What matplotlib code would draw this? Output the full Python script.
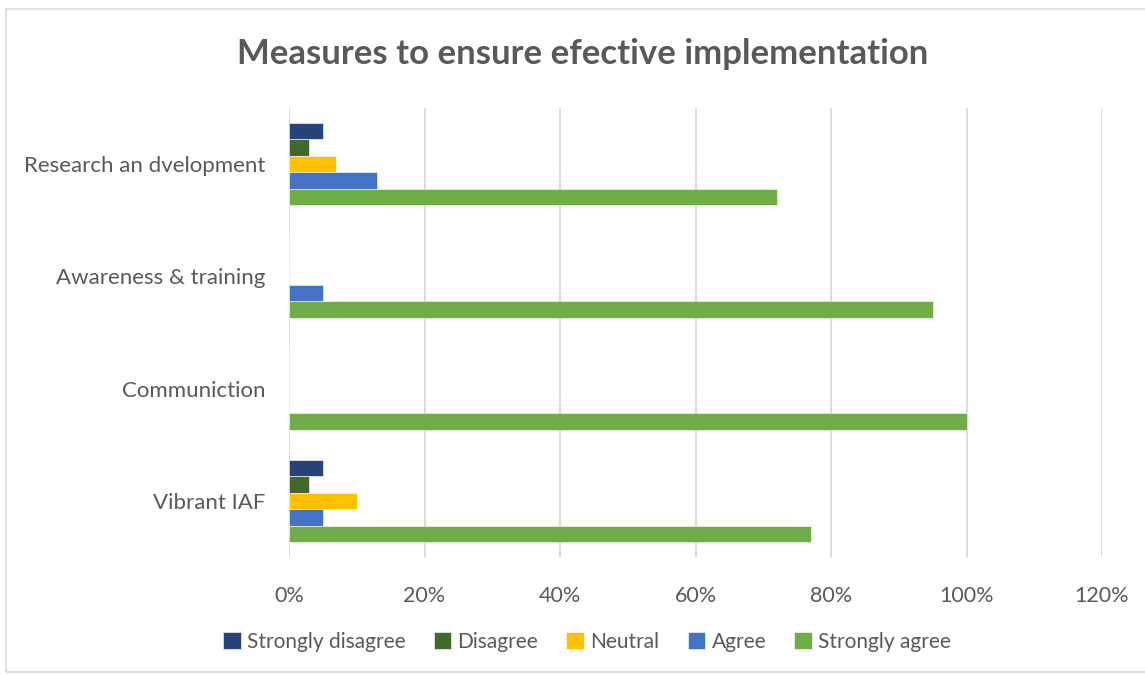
import matplotlib
matplotlib.use("Agg")
import matplotlib.pyplot as plt
import numpy as np
from matplotlib.patches import Rectangle

categories = ["Research an dvelopment", "Awareness & training", "Communiction", "Vibrant IAF"]
series_names = ["Strongly disagree", "Disagree", "Neutral", "Agree", "Strongly agree"]
strongly_disagree = [5, 0, 0, 5]
disagree = [3, 0, 0, 3]
neutral = [7, 0, 0, 10]
agree = [13, 5, 0, 5]
strongly_agree = [72, 95, 100, 77]
colors = ["#264478", "#43682B", "#FFC000", "#4472C4", "#70AD47"]
xticks = [0, 20, 40, 60, 80, 100, 120]
title = "Measures to ensure efective implementation"

series = [strongly_disagree, disagree, neutral, agree, strongly_agree]

plt.rcParams['font.family'] = ['Lato', 'DejaVu Sans']
txt = "#595959"

fig = plt.figure(figsize=(11.45, 6.75), dpi=100)
fig.patches.append(Rectangle((6/1145, 0.005), 1.5, 1 - 9/675 - 0.005, transform=fig.transFigure,
                             fill=False, edgecolor="#D9D9D9", linewidth=1.2))
ax = fig.add_axes([289/1145, 1 - 557/675, (1102 - 289)/1145, (557 - 108)/675])

n = len(categories)
bh = 0.147
centers = np.arange(n)  # 0 at top via inverted axis
for i, (vals, name, c) in enumerate(zip(series, series_names, colors)):
    offs = (i - 2) * bh
    ax.barh(centers + offs, vals, height=bh, color=c, label=name,
            edgecolor="white", linewidth=0.4, zorder=3)

ax.set_ylim(n - 0.5, -0.5)
ax.set_xlim(0, 120)
ax.set_xticks(xticks)
ax.set_xticklabels([f"{t}%" for t in xticks], fontsize=15.5, color=txt)
ax.set_yticks(centers)
ax.set_yticklabels(categories, fontsize=16, color=txt)
ax.tick_params(axis="both", length=0)
ax.tick_params(axis="x", pad=21)
ax.tick_params(axis="y", pad=17)
ax.grid(axis="x", color="#D9D9D9", linewidth=1.3, zorder=0)
for s in ax.spines.values():
    s.set_visible(False)

fig.text(583/1145, 1 - 54/675, title, ha="center", va="center", fontsize=25,
         fontweight="bold", color=txt)

leg = fig.legend(loc="center", bbox_to_anchor=(587/1145, 1 - 642/675), ncol=5, frameon=False,
                 fontsize=15, handlelength=0.85, handleheight=0.85, handletextpad=0.3,
                 columnspacing=1.35, labelcolor=txt)

fig.savefig("out.png", dpi=100, facecolor="white")
